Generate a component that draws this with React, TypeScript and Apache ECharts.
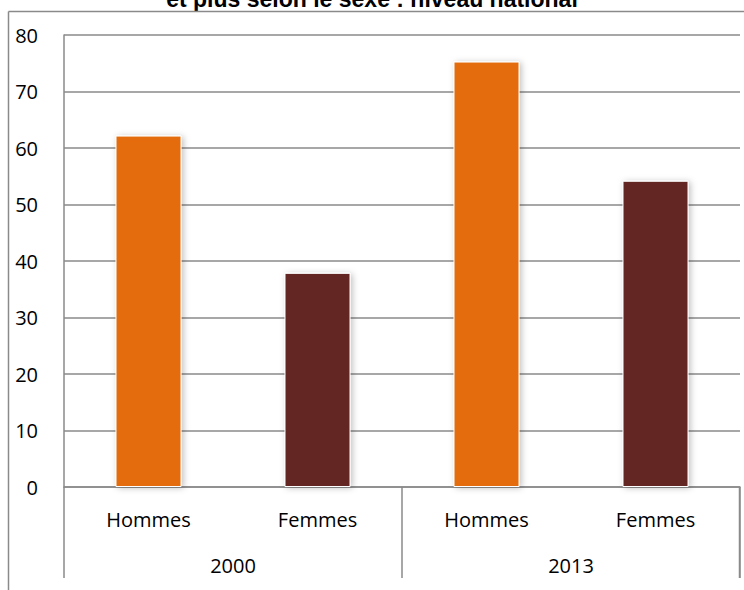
import React, { useEffect, useRef } from "react";
import * as echarts from "echarts";

const titleText = "et plus selon le sexe : niveau national";
const sexCategories = ["Hommes", "Femmes", "Hommes", "Femmes"];
const yearCategories = ["2000", "2013"];
const values = [62.2, 37.9, 75.3, 54.2];
const barColors = ["#E46C0A", "#632523", "#E46C0A", "#632523"];
const yTicks = { min: 0, max: 80, interval: 10 };

const FONT = "'Open Sans', 'DejaVu Sans', sans-serif";
const GRAY = "#8a8a8a";

export default function App() {
  const ref = useRef<HTMLDivElement>(null);
  useEffect(() => {
    if (!ref.current) return;
    const chart = echarts.init(ref.current, undefined, { renderer: "svg" });
    chart.setOption({
      animation: false,
      backgroundColor: "#ffffff",
      grid: { left: 64, right: 4, top: 35, bottom: 103, containLabel: false },
      graphic: [
        {
          type: "text",
          left: "center",
          top: -13,
          style: {
            text: titleText,
            font: `bold 23px 'Liberation Sans', Arial, sans-serif`,
            fill: "#000",
          },
        },
        {
          type: "line",
          shape: { x1: 8.5, y1: 11.5, x2: 744, y2: 11.5 },
          style: { stroke: GRAY, lineWidth: 1.5 },
        },
        {
          type: "line",
          shape: { x1: 8.5, y1: 11.5, x2: 8.5, y2: 590 },
          style: { stroke: GRAY, lineWidth: 1.5 },
        },
        {
          type: "line",
          shape: { x1: 739.5, y1: 487, x2: 739.5, y2: 578 },
          style: { stroke: GRAY, lineWidth: 1.5 },
        },
      ],
      xAxis: [
        {
          type: "category",
          data: sexCategories,
          position: "bottom",
          axisLine: { show: true, lineStyle: { color: GRAY, width: 1.5 } },
          axisTick: { show: false },
          axisLabel: { color: "#000", fontSize: 20, fontFamily: FONT, margin: 22 },
        },
        {
          type: "category",
          data: yearCategories,
          position: "bottom",
          axisLine: { show: false },
          axisTick: { show: true, length: 91, lineStyle: { color: GRAY, width: 1.5 } },
          axisLabel: { color: "#000", fontSize: 20, fontFamily: FONT, margin: 68 },
          splitLine: { show: false },
        },
      ],
      yAxis: {
        type: "value",
        min: yTicks.min,
        max: yTicks.max,
        interval: yTicks.interval,
        axisLine: { show: true, lineStyle: { color: GRAY, width: 1.5 } },
        axisTick: { show: false },
        axisLabel: { color: "#000", fontSize: 20, fontFamily: FONT, margin: 26 },
        splitLine: { show: true, lineStyle: { color: GRAY, width: 1.5 } },
      },
      series: [
        {
          type: "bar",
          xAxisIndex: 0,
          barWidth: 66,
          data: values.map((v, i) => ({
            value: v,
            itemStyle: {
              color: barColors[i],
              borderColor: "#ffffff",
              borderWidth: 1,
              shadowColor: "rgba(0,0,0,0.25)",
              shadowBlur: 6,
              shadowOffsetX: 2,
              shadowOffsetY: 1,
            },
          })),
        },
      ],
    });
    return () => chart.dispose();
  }, []);
  return (
    <div
      ref={ref}
      style={{ position: "fixed", left: 0, top: 0, width: 744, height: 590 }}
    />
  );
}
